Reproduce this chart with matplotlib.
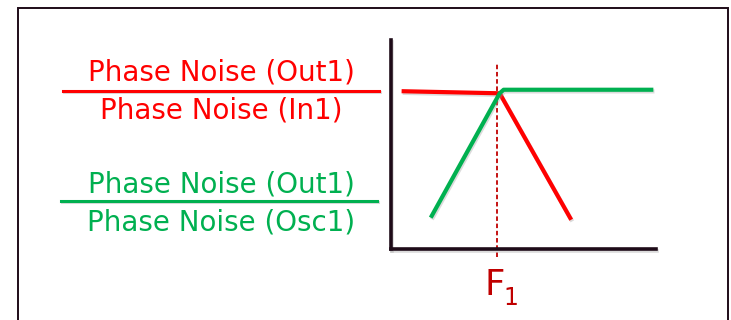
import matplotlib
matplotlib.use('Agg')
import matplotlib.pyplot as plt
from matplotlib.lines import Line2D
from matplotlib.patches import Rectangle
from matplotlib import patheffects as pe

W, H = 731, 320

# normalised transfer curves (x = offset frequency, y = ratio)
red_x = [0.04, 0.41, 0.68]
red_y = [0.755, 0.745, 0.14]
green_x = [0.15, 0.41, 0.425, 0.99]
green_y = [0.15, 0.745, 0.762, 0.762]
f1 = 0.40

red_num, red_den = "Phase Noise (Out1)", "Phase Noise (In1)"
green_num, green_den = "Phase Noise (Out1)", "Phase Noise (Osc1)"

RED = '#ff0000'
GREEN = '#00b050'
DARK_RED = '#c00000'
INK = '#1e0b18'

shadow = [pe.SimpleLineShadow(offset=(0.8, -1.2), shadow_color='#999999', alpha=0.35), pe.Normal()]


def px(x, y):
    # pixel position (from top-left) -> figure fraction
    return x / W, 1 - y / H


fig = plt.figure(figsize=(W / 100, H / 100), dpi=100)

# outer frame of the slide box (bottom edge runs off the picture)
fig.add_artist(Rectangle((18 / W, -0.05), (728 - 18) / W, 1.05 - 8 / H,
                         transform=fig.transFigure, fill=False, lw=1.4, ec=INK))

# fraction labels on the left
for num, den, col, yb1, ybar, yb2, x0, x1 in [
        (red_num, red_den, RED, 81, 90.7, 119, 63, 379),
        (green_num, green_den, GREEN, 192, 200.7, 231, 61, 377)]:
    fig.text(*px(221, yb1), num, ha='center', va='baseline', fontsize=20, color=col)
    fig.text(*px(221, yb2), den, ha='center', va='baseline', fontsize=20, color=col)
    fig.add_artist(Line2D([x0 / W, x1 / W], [1 - ybar / H] * 2, color=col, lw=2.2,
                          transform=fig.transFigure, path_effects=shadow))

# the little plot
l, b = px(391, 249)
ax = fig.add_axes([l, b, (656 - 391) / W, (249 - 40) / H])
ax.patch.set_visible(False)
ax.set_xlim(0, 1)
ax.set_ylim(0, 1)
for side in ['top', 'right']:
    ax.spines[side].set_visible(False)
for side in ['left', 'bottom']:
    ax.spines[side].set_linewidth(2.6)
    ax.spines[side].set_color(INK)
    ax.spines[side].set_capstyle('projecting')
    ax.spines[side].set_path_effects(shadow)
ax.set_xticks([])
ax.set_yticks([])

ax.axvline(f1, ymin=-0.04, ymax=0.885, clip_on=False, color=DARK_RED, lw=1.3,
           ls=(0, (2.5, 1.5)))

ax.plot(red_x, red_y, color=RED, lw=3, solid_capstyle='butt', path_effects=shadow)
ax.plot(green_x, green_y, color=GREEN, lw=3, solid_capstyle='butt', path_effects=shadow)

ax.annotate('F', xy=(f1, 0), xytext=(-1.8, -33), textcoords='offset points',
            ha='center', va='baseline', fontsize=25.5, color=DARK_RED, annotation_clip=False)
ax.annotate('1', xy=(f1, 0), xytext=(9.7, -40.3), textcoords='offset points',
            ha='center', va='baseline', fontsize=17, color=DARK_RED, annotation_clip=False)

fig.savefig('out.png', dpi=100)
